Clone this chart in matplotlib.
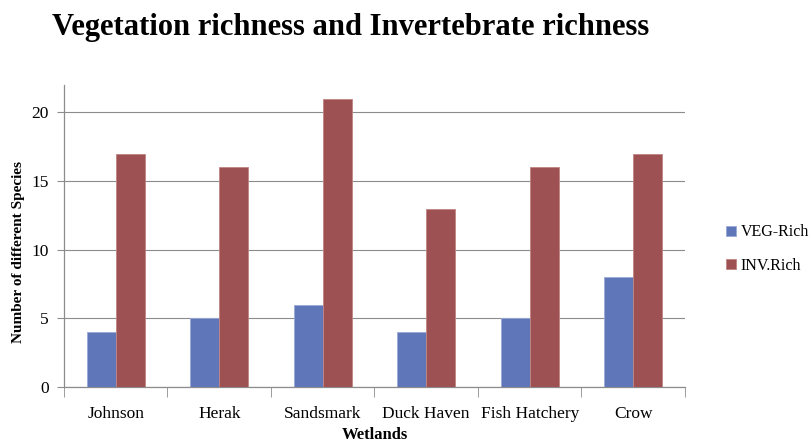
import matplotlib
matplotlib.use("Agg")
import matplotlib.pyplot as plt
import numpy as np

wetlands = ["Johnson", "Herak", "Sandsmark", "Duck Haven", "Fish Hatchery", "Crow"]
veg_rich = [4, 5, 6, 4, 5, 8]
inv_rich = [17, 16, 21, 13, 16, 17]
series_names = ["VEG-Rich", "INV.Rich"]
y_ticks = [0, 5, 10, 15, 20]

plt.rcParams["font.family"] = ["Liberation Serif", "DejaVu Serif"]

fig = plt.figure(figsize=(8.12, 4.42), dpi=100)
ax = fig.add_axes([64 / 812, 1 - 387 / 442, (685 - 64) / 812, (387 - 85) / 442])

x = np.arange(len(wetlands))
w = 0.28
blue = "#5F77B8"
red = "#9E5152"
ax.bar(x - w / 2, veg_rich, width=w, color=blue, edgecolor="#9AAAD6", linewidth=0.6,
       label=series_names[0], zorder=3)
ax.bar(x + w / 2, inv_rich, width=w, color=red, edgecolor="#C08484", linewidth=0.6,
       label=series_names[1], zorder=3)

ax.set_xlim(-0.5, len(wetlands) - 0.5)
ax.set_ylim(0, 22)
ax.set_yticks(y_ticks)
ax.set_yticklabels([str(v) for v in y_ticks], fontsize=12.5)
ax.yaxis.grid(True, color="#8C8C8C", linewidth=0.8, zorder=0)
ax.tick_params(axis="y", length=5, color="#8C8C8C", pad=6)

ax.set_xticks(x)
ax.set_xticklabels(wetlands, fontsize=12.5)
ax.tick_params(axis="x", length=0, pad=14)
ax.set_xticks(np.arange(len(wetlands) + 1) - 0.5, minor=True)
ax.tick_params(axis="x", which="minor", length=7, color="#8C8C8C")

for side in ["top", "right"]:
    ax.spines[side].set_visible(False)
for side in ["left", "bottom"]:
    ax.spines[side].set_color("#8C8C8C")
    ax.spines[side].set_linewidth(0.9)

ax.set_xlabel("Wetlands", fontsize=12, fontweight="bold", labelpad=3)
ax.set_ylabel("Number of different Species", fontsize=11, fontweight="bold")
ax.yaxis.set_label_coords(-0.063, 0.447)

fig.text(52 / 812, 1 - 28 / 442, "Vegetation richness and Invertebrate richness",
         fontsize=22, fontweight="bold", va="center", ha="left")

fig.legend(loc="center left", bbox_to_anchor=(726 / 812, 1 - 249 / 442), frameon=False,
           fontsize=11.5, handlelength=0.6, handleheight=0.6, handletextpad=0.3,
           labelspacing=1.1, borderaxespad=0, borderpad=0)

fig.savefig("out.png", dpi=100)
